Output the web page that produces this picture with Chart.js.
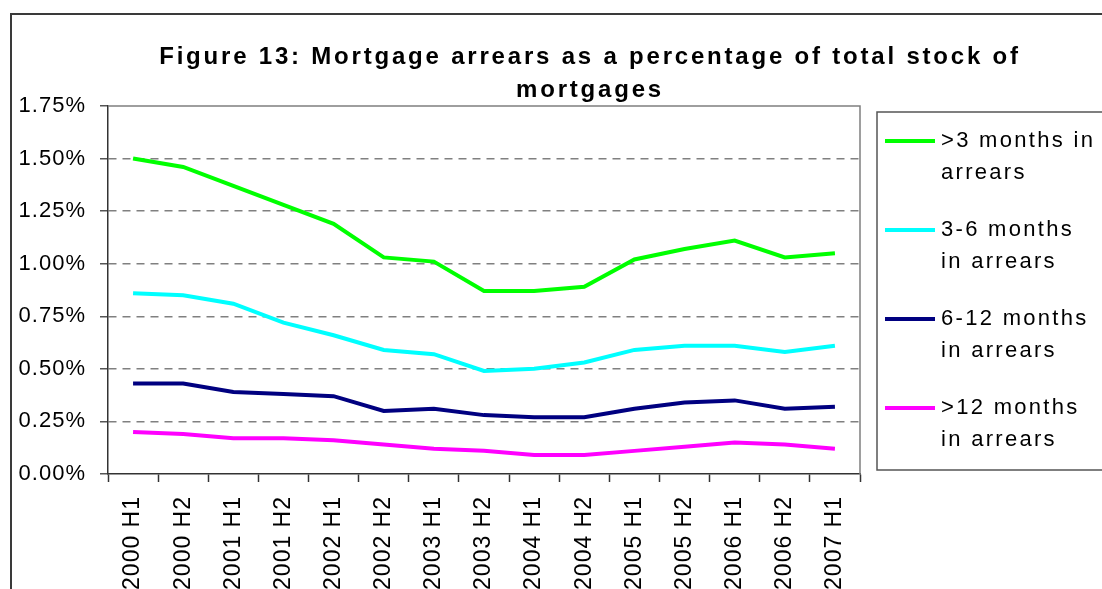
<!DOCTYPE html>
<html>
<head>
<meta charset="utf-8">
<script src="https://cdn.jsdelivr.net/npm/chart.js@4.4.0/dist/chart.umd.min.js"></script>
<style>
  html, body { margin: 0; padding: 0; background: #fff; overflow: hidden; width: 1102px; height: 589px; }
  #frame { position: absolute; left: 10px; top: 13px; width: 1156px; height: 640px; border: 2px solid #3a3a3a; }
  canvas { display: block; }
</style>
</head>
<body>
<div id="frame"><canvas id="chart" width="1156" height="640"></canvas></div>
<script>
// half-year periods on the x axis
const halfYears = ["2000 H1", "2000 H2", "2001 H1", "2001 H2", "2002 H1", "2002 H2", "2003 H1", "2003 H2",
                   "2004 H1", "2004 H2", "2005 H1", "2005 H2", "2006 H1", "2006 H2", "2007 H1"];

// arrears, % of total stock of mortgages
const over3Months   = [1.50, 1.46, 1.37, 1.28, 1.19, 1.03, 1.01, 0.87, 0.87, 0.89, 1.02, 1.07, 1.11, 1.03, 1.05];
const months3to6    = [0.86, 0.85, 0.81, 0.72, 0.66, 0.59, 0.57, 0.49, 0.50, 0.53, 0.59, 0.61, 0.61, 0.58, 0.61];
const months6to12   = [0.43, 0.43, 0.39, 0.38, 0.37, 0.30, 0.31, 0.28, 0.27, 0.27, 0.31, 0.34, 0.35, 0.31, 0.32];
const over12Months  = [0.20, 0.19, 0.17, 0.17, 0.16, 0.14, 0.12, 0.11, 0.09, 0.09, 0.11, 0.13, 0.15, 0.14, 0.12];

const seriesNames = [[">3 months in", "arrears"], ["3-6 months", "in arrears"], ["6-12 months", "in arrears"], [">12 months", "in arrears"]];
const titleLines = ["Figure 13: Mortgage arrears as a percentage of total stock of", "mortgages"];

const yTicks = { min: 0, max: 1.75, step: 0.25 };

const FONT = '"Liberation Sans", Arial, sans-serif';

// canvas letter spacing (resets whenever the canvas is sized)
const spacing = {
  id: 'spacing',
  beforeLayout(chart) { chart.ctx.letterSpacing = '1px'; },
  beforeDraw(chart) { chart.ctx.letterSpacing = '1px'; }
};

// gray frame on top and right of plot area
const plotFrame = {
  id: 'plotFrame',
  beforeDatasetsDraw(chart) {
    const a = chart.chartArea, ctx = chart.ctx;
    ctx.save();
    ctx.strokeStyle = '#7f7f7f';
    ctx.lineWidth = 1.5;
    ctx.beginPath();
    ctx.moveTo(a.left, a.top);
    ctx.lineTo(a.right, a.top);
    ctx.lineTo(a.right, a.bottom);
    ctx.stroke();
    ctx.restore();
  }
};

const spacedTitle = {
  id: 'spacedTitle',
  afterDraw(chart) {
    const ctx = chart.ctx;
    ctx.save();
    ctx.font = 'bold 24px ' + FONT;
    ctx.letterSpacing = '2.8px';
    ctx.fillStyle = '#000';
    ctx.textAlign = 'center';
    ctx.textBaseline = 'alphabetic';
    titleLines.forEach((t, i) => ctx.fillText(t, chart.width / 2, 49 + i * 33));
    ctx.restore();
  }
};

// boxed legend on the right, two text lines per entry
const boxLegend = {
  id: 'boxLegend',
  afterDraw(chart) {
    const ctx = chart.ctx, a = chart.chartArea;
    const bx = a.right + 17, by = a.top + 6;
    ctx.save();
    ctx.strokeStyle = '#555';
    ctx.lineWidth = 1.5;
    ctx.strokeRect(bx, by, 290, 358);
    ctx.font = '22px ' + FONT;
    ctx.letterSpacing = '2.3px';
    ctx.textBaseline = 'middle';
    ctx.textAlign = 'left';
    chart.data.datasets.forEach((ds, i) => {
      const y = by + 29 + i * 89;
      ctx.strokeStyle = ds.borderColor;
      ctx.lineWidth = 4;
      ctx.beginPath();
      ctx.moveTo(bx + 8, y);
      ctx.lineTo(bx + 58, y);
      ctx.stroke();
      ctx.fillStyle = '#000';
      seriesNames[i].forEach((t, j) => ctx.fillText(t, bx + 64, y + j * 32));
    });
    ctx.restore();
  }
};

const colors = ['#00ff00', '#00ffff', '#000080', '#ff00ff'];
const seriesData = [over3Months, months3to6, months6to12, over12Months];

new Chart(document.getElementById('chart'), {
  type: 'line',
  data: {
    labels: halfYears,
    datasets: seriesData.map((d, i) => ({
      label: seriesNames[i].join(' '),
      data: d,
      borderColor: colors[i],
      backgroundColor: colors[i],
      borderWidth: 4,
      pointRadius: 0,
      tension: 0,
      fill: false
    }))
  },
  options: {
    responsive: false,
    animation: false,
    devicePixelRatio: 1,
    layout: { padding: { top: 91, right: 308, left: 0, bottom: 61 } },
    plugins: {
      legend: { display: false },
      title: { display: false },
      tooltip: { enabled: false }
    },
    scales: {
      x: {
        offset: true,
        afterFit(scale) { scale.height = 120; },
        grid: { offset: true, drawOnChartArea: false, drawTicks: true, tickLength: 8, tickColor: '#333', tickWidth: 1.5 },
        border: { color: '#333', width: 1.5 },
        ticks: {
          autoSkip: false, minRotation: 90, maxRotation: 90, padding: 14,
          color: '#000', font: { family: FONT, size: 23 }
        }
      },
      y: {
        min: yTicks.min,
        max: yTicks.max,
        afterFit(scale) { scale.width = 96; },
        grid: {
          color: ctx => (ctx.tick && (ctx.tick.value === 0 || ctx.tick.value === yTicks.max)) ? 'rgba(0,0,0,0)' : '#808080',
          lineWidth: 1.5,
          tickColor: '#555',
          tickLength: 8,
          tickWidth: 1.5
        },
        border: { color: '#333', width: 1.5, dash: [8, 6] },
        ticks: {
          stepSize: yTicks.step,
          padding: 14,
          color: '#000',
          font: { family: FONT, size: 22 },
          callback: v => v.toFixed(2) + '%'
        }
      }
    }
  },
  plugins: [spacing, plotFrame, spacedTitle, boxLegend]
});
</script>
</body>
</html>
